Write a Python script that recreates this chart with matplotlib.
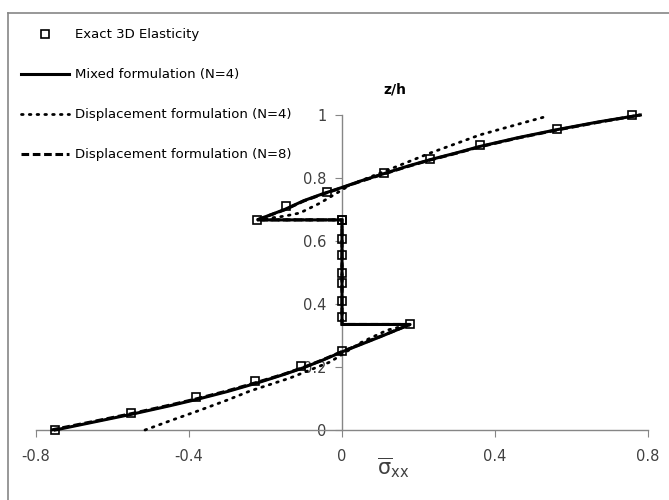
import matplotlib.pyplot as plt
from matplotlib.lines import Line2D

plt.rcParams["mathtext.default"] = "regular"

# exact 3D elasticity (markers)
exact_x = [-0.750, -0.552, -0.382, -0.227, -0.107, 0.0, 0.178,
           0.0, 0.0, 0.0, 0.0, 0.0, 0.0, 0.0, 0.0,
           -0.222, -0.146, -0.039, 0.110, 0.230, 0.361, 0.562, 0.758]
exact_z = [0.0, 0.054, 0.105, 0.156, 0.203, 0.251, 0.336,
           0.359, 0.410, 0.467, 0.498, 0.556, 0.606, 0.667, 0.667,
           0.667, 0.711, 0.756, 0.816, 0.860, 0.905, 0.955, 1.0]

# mixed formulation N=4
mixed_x = [-0.75, -0.65, -0.55, -0.45, -0.38, -0.30, -0.22, -0.15, -0.10, -0.05, 0.0,
           0.05, 0.10, 0.178, 0.0, 0.0, -0.222, -0.15, -0.10, -0.05, 0.0, 0.05, 0.11,
           0.17, 0.23, 0.30, 0.36, 0.46, 0.56, 0.67, 0.78]
mixed_z = [0.0, 0.025, 0.050, 0.077, 0.097, 0.122, 0.150, 0.177, 0.198, 0.222, 0.248,
           0.272, 0.296, 0.335, 0.335, 0.667, 0.667, 0.700, 0.728, 0.750, 0.770, 0.791, 0.814,
           0.837, 0.858, 0.880, 0.900, 0.928, 0.953, 0.978, 1.0]

# displacement formulation N=4
disp4_x = [-0.515, -0.45, -0.371, -0.30, -0.24, -0.136, -0.031, 0.047, 0.118, 0.178,
           0.0, 0.0, -0.222, -0.15, -0.11, -0.058, 0.0, 0.021, 0.107, 0.23, 0.361, 0.473, 0.539]
disp4_z = [0.0, 0.029, 0.063, 0.095, 0.124, 0.165, 0.216, 0.276, 0.317, 0.335,
           0.335, 0.667, 0.667, 0.679, 0.689, 0.720, 0.762, 0.778, 0.819, 0.879, 0.937, 0.975, 0.997]

# displacement formulation N=8
disp8_x = [-0.76, -0.65, -0.55, -0.45, -0.38, -0.30, -0.22, -0.15, -0.10, -0.05, 0.0,
           0.05, 0.10, 0.178, 0.0, 0.0, -0.222, -0.15, -0.10, -0.05, 0.0, 0.05, 0.11,
           0.17, 0.23, 0.30, 0.36, 0.46, 0.56, 0.67, 0.78]
disp8_z = [0.0, 0.027, 0.052, 0.079, 0.099, 0.124, 0.152, 0.178, 0.199, 0.223, 0.249,
           0.273, 0.297, 0.335, 0.335, 0.667, 0.667, 0.699, 0.727, 0.749, 0.769, 0.790, 0.813,
           0.836, 0.857, 0.879, 0.899, 0.927, 0.952, 0.977, 1.0]

x_ticks = [-0.8, -0.4, 0, 0.4, 0.8]
y_ticks = [0, 0.2, 0.4, 0.6, 0.8, 1]

fig = plt.figure(figsize=(6.69, 5.0), dpi=100)
ax = fig.add_axes([36 / 669, 1 - 430 / 500, 612 / 669, 315 / 500])

grey = "#868686"
txt = "#404040"

ax.plot(mixed_x, mixed_z, color="black", lw=2.2, solid_joinstyle="miter", clip_on=False,
        label="Mixed formulation (N=4)", zorder=3)
ax.plot(disp4_x, disp4_z, color="black", lw=2.0, linestyle=(0, (0.6, 2.2)), dash_capstyle="round",
        clip_on=False, label="Displacement formulation (N=4)", zorder=3)
ax.plot(disp8_x, disp8_z, color="black", lw=2.2, linestyle=(0, (2.5, 1.2)), clip_on=False,
        label="Displacement formulation (N=8)", zorder=3)
ax.plot(exact_x, exact_z, linestyle="none", marker="s", markersize=6.2, markerfacecolor="none",
        markeredgecolor="black", markeredgewidth=1.2, clip_on=False,
        label="Exact 3D Elasticity", zorder=4)

ax.set_xlim(-0.8, 0.8)
ax.set_ylim(0, 1)
ax.set_xticks(x_ticks)
ax.set_xticklabels(["-0.8", "-0.4", "0", "0.4", "0.8"])
ax.set_yticks(y_ticks)
ax.set_yticklabels(["0", "0.2", "0.4", "0.6", "0.8", "1"])

ax.spines["left"].set_position(("data", 0))
ax.spines["right"].set_visible(False)
ax.spines["top"].set_visible(False)
for s in ("left", "bottom"):
    ax.spines[s].set_color(grey)
    ax.spines[s].set_linewidth(1.0)
ax.tick_params(axis="both", direction="out", length=5, color=grey, labelsize=10.5,
               labelcolor=txt, pad=6)
ax.tick_params(axis="x", pad=9)
ax.patch.set_visible(False)

fig.text(395 / 669, 1 - 90 / 500, "z/h", fontsize=10, fontweight="bold", color="black",
         ha="center", va="center")
fig.text(393 / 669, 1 - 468 / 500, r"$\overline{\sigma}_{xx}$", fontsize=15,
         color=txt, ha="center", va="center")

handles, labels = ax.get_legend_handles_labels()
order = [3, 0, 1, 2]
fig.legend([handles[i] for i in order], [labels[i] for i in order],
           loc="upper left", bbox_to_anchor=(16 / 669, 1 - 23 / 500), frameon=False,
           fontsize=9.5, handlelength=3.6, handletextpad=0.45, labelspacing=2.05,
           borderaxespad=0, labelcolor="black")

# chart area border
fig.add_artist(Line2D([8 / 669, 1], [1 - 12.5 / 500] * 2, color=grey, lw=1.2,
                      transform=fig.transFigure))
fig.add_artist(Line2D([8 / 669] * 2, [0, 1 - 12.5 / 500], color=grey, lw=1.2,
                      transform=fig.transFigure))

fig.savefig("out.png", dpi=100)
